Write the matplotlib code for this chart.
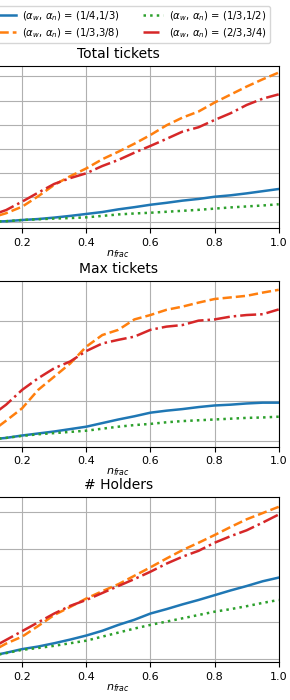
import matplotlib.pyplot as plt

# x grid (n_frac)
n_frac = [0.0, 0.05, 0.1, 0.15, 0.2, 0.25, 0.3, 0.35, 0.4, 0.45, 0.5,
          0.55, 0.6, 0.65, 0.7, 0.75, 0.8, 0.85, 0.9, 0.95, 1.0]

labels = [r'$(\alpha_w,\,\alpha_n)$ = (1/4,1/3)',
          r'$(\alpha_w,\,\alpha_n)$ = (1/3,3/8)',
          r'$(\alpha_w,\,\alpha_n)$ = (1/3,1/2)',
          r'$(\alpha_w,\,\alpha_n)$ = (2/3,3/4)']

# Total tickets
total_a = [0.0, 0.0, 0.0, 0.02, 0.07, 0.11, 0.17, 0.24, 0.32, 0.4, 0.51,
           0.6, 0.70, 0.78, 0.87, 0.94, 1.03, 1.09, 1.17, 1.26, 1.35]
total_b = [0.0, 0.05, 0.15, 0.35, 0.62, 1.05, 1.52, 1.88, 2.2, 2.58, 2.89,
           3.22, 3.58, 3.98, 4.3, 4.55, 4.92, 5.25, 5.58, 5.88, 6.16]
total_c = [0.0, 0.0, 0.0, 0.02, 0.07, 0.1, 0.13, 0.15, 0.18, 0.24, 0.3,
           0.34, 0.37, 0.41, 0.45, 0.49, 0.54, 0.59, 0.63, 0.67, 0.72]
total_d = [0.05, 0.12, 0.25, 0.48, 0.83, 1.2, 1.56, 1.8, 2.0, 2.3, 2.55,
           2.85, 3.13, 3.42, 3.72, 3.9, 4.2, 4.48, 4.82, 5.08, 5.26]

# Max tickets
max_a = [0.0, 0.01, 0.03, 0.07, 0.13, 0.18, 0.23, 0.29, 0.35, 0.44, 0.53,
         0.61, 0.7, 0.75, 0.79, 0.84, 0.88, 0.9, 0.93, 0.95, 0.95]
max_b = [0.0, 0.08, 0.2, 0.5, 0.81, 1.27, 1.6, 1.93, 2.35, 2.64, 2.77,
         3.03, 3.14, 3.27, 3.35, 3.45, 3.54, 3.58, 3.62, 3.7, 3.77]
max_c = [0.0, 0.01, 0.03, 0.07, 0.12, 0.16, 0.19, 0.22, 0.25, 0.3, 0.35,
         0.39, 0.42, 0.46, 0.49, 0.51, 0.53, 0.55, 0.57, 0.58, 0.6]
max_d = [0.05, 0.3, 0.6, 0.9, 1.27, 1.56, 1.81, 1.98, 2.24, 2.43, 2.52,
         2.6, 2.77, 2.85, 2.89, 3.0, 3.03, 3.1, 3.14, 3.16, 3.28]

# # Holders
hold_a = [0.0, 0.03, 0.08, 0.17, 0.27, 0.34, 0.43, 0.53, 0.64, 0.77, 0.93,
          1.07, 1.24, 1.36, 1.49, 1.61, 1.74, 1.87, 1.99, 2.12, 2.22]
hold_b = [0.0, 0.05, 0.18, 0.42, 0.61, 0.9, 1.2, 1.42, 1.65, 1.85, 2.04,
          2.27, 2.5, 2.74, 2.97, 3.17, 3.38, 3.6, 3.81, 3.98, 4.15]
hold_c = [0.0, 0.03, 0.08, 0.16, 0.25, 0.3, 0.36, 0.43, 0.5, 0.61, 0.72,
          0.83, 0.93, 1.02, 1.11, 1.2, 1.29, 1.36, 1.44, 1.53, 1.61]
hold_d = [0.02, 0.12, 0.28, 0.52, 0.76, 1.0, 1.24, 1.45, 1.61, 1.8, 1.99,
          2.18, 2.38, 2.6, 2.79, 2.95, 3.17, 3.35, 3.51, 3.72, 3.94]

titles = ['Total tickets', 'Max tickets', '# Holders']
series = [[total_a, total_b, total_c, total_d],
          [max_a, max_b, max_c, max_d],
          [hold_a, hold_b, hold_c, hold_d]]
ylims = [(-0.26, 6.43), (-0.15, 3.99), (-0.09, 4.41)]
yticks = [range(0, 7), range(0, 4), range(0, 5)]

colors = ['tab:blue', 'tab:orange', 'tab:green', 'tab:red']
styles = ['-', '--', ':', '-.']

fig = plt.figure(figsize=(2.9, 7.0), dpi=100)
left = -42 / 290
width = (278.7 + 42) / 290
boxes = [(66, 228), (281, 446.7), (497.3, 662.3)]

for i in range(3):
    top, bot = boxes[i]
    ax = fig.add_axes([left, 1 - bot / 700, width, (bot - top) / 700])
    for s, c, ls, lab in zip(series[i], colors, styles, labels):
        ax.plot(n_frac, s, color=c, linestyle=ls, linewidth=1.8, label=lab)
    ax.set_xlim(0, 1.0)
    ax.set_ylim(*ylims[i])
    ax.set_yticks(list(yticks[i]))
    ax.set_xticks([0.2, 0.4, 0.6, 0.8, 1.0])
    ax.tick_params(labelsize=8)
    ax.tick_params(axis='y', labelleft=False)
    ax.grid(True)
    ax.set_title(titles[i], fontsize=10)
    ax.set_xlabel(r'$n_{frac}$', fontsize=8, labelpad=0)

handles, labs = ax.get_legend_handles_labels()
fig.legend(handles, labs, loc='upper right', ncol=2, fontsize=7.2,
           bbox_to_anchor=(270 / 290, 1 - 6 / 700), borderaxespad=0,
           handletextpad=0.6, labelspacing=0.35, columnspacing=2.4,
           borderpad=0.3)

plt.savefig('out.png', dpi=100)
